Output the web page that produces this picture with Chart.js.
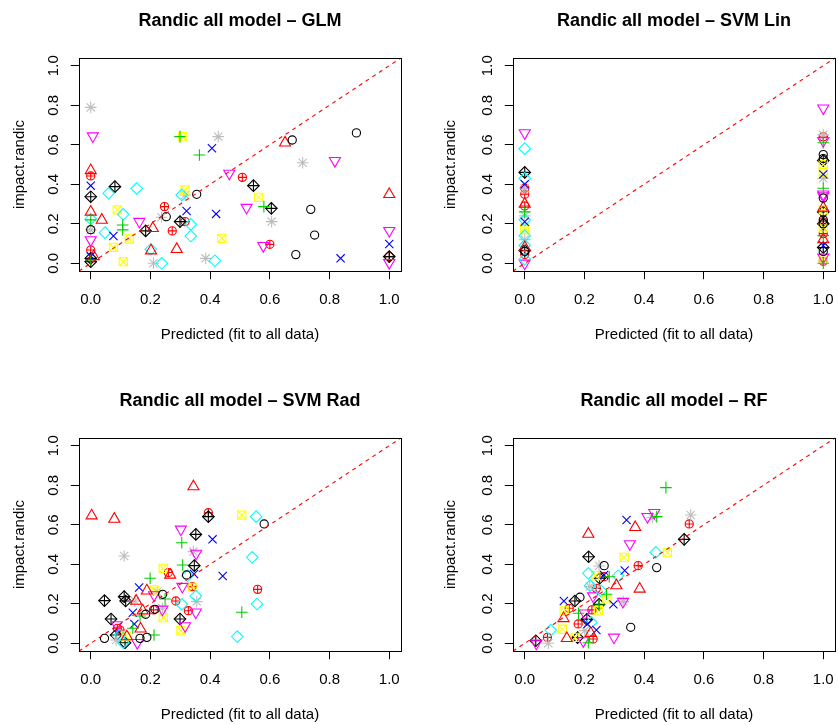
<!DOCTYPE html>
<html>
<head>
<meta charset="utf-8">
<script src="https://cdn.jsdelivr.net/npm/chart.js@4.4.1/dist/chart.umd.min.js"></script>
<style>
  html, body { margin: 0; padding: 0; background: #fff; overflow: hidden; width: 838px; height: 725px; position: relative; }
  .panel { position: absolute; width: 419px; height: 362px; }
</style>
</head>
<body>
<div class="panel" style="left:0;top:0"><canvas id="c0" width="419" height="362"></canvas></div>
<div class="panel" style="left:434px;top:0"><canvas id="c1" width="419" height="362"></canvas></div>
<div class="panel" style="left:0;top:380px"><canvas id="c2" width="419" height="362"></canvas></div>
<div class="panel" style="left:434px;top:380px"><canvas id="c3" width="419" height="362"></canvas></div>
<script>
// ---- data ----
const panelTitles = ["Randic all model \u2013 GLM", "Randic all model \u2013 SVM Lin",
                     "Randic all model \u2013 SVM Rad", "Randic all model \u2013 RF"];
const xLabel = "Predicted (fit to all data)";
const yLabel = "impact.randic";
const tickValues = [0, 0.2, 0.4, 0.6, 0.8, 1.0];
const axisRange = [-0.04, 1.04];
const diagLine = [-0.04, 1.04];

// one list of [predicted, observed] per symbol group (pch 1..10)
const glmPts = [
  [[0.675,0.624],[0.89,0.66],[0.737,0.273],[0.75,0.143],[0.687,0.044],[0.355,0.349],[0.253,0.236],[0,0.17]],
  [[0.651,0.61],[1.0,0.349],[0.288,0.071],[0.208,0.177],[0.037,0.219],[0,0.47],[0,0.26],[0.202,0.064],[0.01,0.035]],
  [[0.299,0.641],[0.364,0.548],[0.107,0.194],[0.107,0.169],[0.58,0.287],[0,0.22],[0,0.017]],
  [[0.406,0.582],[0.321,0.265],[0.42,0.25],[0.076,0.138],[0.837,0.025],[1.0,0.098],[0,0.393],[0,0.034]],
  [[0.154,0.379],[0.06,0.354],[0.109,0.248],[0.048,0.155],[0.305,0.346],[0.335,0.197],[0.335,0.138],[0.201,0.071],[0.238,0.0],[0.416,0.013],[0,0.224]],
  [[0.007,0.644],[0.464,0.455],[0.818,0.519],[0.522,0.282],[0.163,0.211],[0.578,0.089],[1.0,0.165],[1.0,0.003],[0,0.118]],
  [[0.308,0.641],[0.316,0.371],[0.089,0.27],[0.129,0.123],[0.076,0.081],[0.109,0.008],[0.5625,0.334],[0.439,0.126]],
  [[0,0.789],[0.427,0.641],[0.71,0.509],[0.316,0.346],[0.237,0.233],[0.606,0.211],[0.385,0.025],[0.21,0.0],[0,0.169]],
  [[0.081,0.388],[0,0.337],[0.545,0.393],[0.605,0.278],[0.299,0.211],[0.184,0.164],[1.0,0.034],[0,0.008],[0,0.025]],
  [[0.508,0.435],[0.247,0.287],[0.316,0.211],[0.273,0.164],[0.6,0.096],[0,0.442],[0,0.067],[1.0,0.034]]
];
const svmLinPts = [
  [[1,0.55],[1,0.53],[1,0.33],[1,0.22],[1,0.20],[1,0.06],[0,0.06]],
  [[1,0.12],[0,0.08],[1,0.28],[0,0.30]],
  [[1,0.61],[1,0.38],[0,0.26],[1,0.0],[1,0.14]],
  [[1,0.45],[1,0.09],[0,0.40],[0,0.21]],
  [[0,0.58],[0,0.43],[0,0.14],[0,0.09],[0,0.02],[0,0.22]],
  [[0,0.66],[1,0.785],[1,0.35],[1,0.34],[1,0.03],[0,0.0],[1,0.62]],
  [[1,0.50],[1,0.46],[1,0.27],[1,0.18],[1,0.02],[0,0.17],[0,0.18]],
  [[1,0.65],[0,0.38],[0,0.24],[0,0.12],[1,0.43]],
  [[0,0.46],[1,0.52],[1,0.26],[1,0.08],[0,0.065],[1,0.2]],
  [[0,0.35],[0,0.29],[0,0.045],[1,0.64],[1,0.21],[1,0.15],[1,0.01],[0,0.38]]
];
const svmRadPts = [
  [[0.581,0.604],[0.321,0.346],[0.241,0.248],[0.215,0.172],[0.184,0.147],[0.046,0.025],[0.165,0.025],[0.188,0.03]],
  [[0.003,0.646],[0.079,0.629],[0.344,0.793],[0.266,0.346],[0.188,0.266],[0.152,0.214],[0.174,0.165],[0.167,0.073],[0.121,0.034]],
  [[0.305,0.509],[0.308,0.396],[0.199,0.329],[0.249,0.224],[0.165,0.138],[0.141,0.076],[0.212,0.042],[0.506,0.157]],
  [[0.408,0.526],[0.442,0.341],[0.346,0.351],[0.162,0.282],[0.141,0.155],[0.146,0.098]],
  [[0.554,0.641],[0.541,0.435],[0.557,0.199],[0.491,0.034],[0.352,0.239],[0.305,0.197],[0.324,0.342],[0.109,0.003],[0.098,0.042]],
  [[0.302,0.577],[0.353,0.455],[0.307,0.287],[0.352,0.157],[0.316,0.088],[0.212,0.245],[0.240,0.172],[0.087,0.093],[0.156,0.003]],
  [[0.506,0.649],[0.243,0.379],[0.212,0.27],[0.243,0.13],[0.302,0.064],[0.342,0.283],[0.118,0.037]],
  [[0.112,0.442],[0.344,0.464],[0.355,0.211],[0.223,0.261],[0.148,0.214],[0.24,0.177],[0.085,0.017]],
  [[0.394,0.641],[0.352,0.551],[0.347,0.393],[0.046,0.216],[0.112,0.236],[0.117,0.214],[0.068,0.123],[0.299,0.123],[0.085,0.042],[0.115,0.003]],
  [[0.394,0.661],[0.26,0.358],[0.34,0.287],[0.285,0.214],[0.21,0.169],[0.327,0.165],[0.559,0.273],[0.098,0.067],[0.089,0.076]]
];
const rfPts = [
  [[0.442,0.383],[0.266,0.393],[0.185,0.233],[0.355,0.081]],
  [[0.213,0.553],[0.37,0.587],[0.385,0.275],[0.307,0.292],[0.13,0.126],[0.141,0.025],[0.221,0.051]],
  [[0.473,0.788],[0.442,0.641],[0.283,0.337],[0.274,0.248],[0.18,0.152],[0.213,0.003],[0.249,0.194]],
  [[0.341,0.624],[0.335,0.368],[0.297,0.197],[0.131,0.214],[0.24,0.067],[0.266,0.346],[0.21,0.098]],
  [[0.439,0.46],[0.313,0.342],[0.213,0.354],[0.219,0.292],[0.087,0.067],[0.255,0.266],[0.223,0.106]],
  [[0.434,0.661],[0.411,0.641],[0.352,0.503],[0.299,0.03],[0.329,0.211],[0.229,0.239],[0.196,0.012],[0.201,0.152],[0.039,0.0]],
  [[0.478,0.459],[0.333,0.435],[0.238,0.342],[0.275,0.224],[0.247,0.165],[0.132,0.164],[0.126,0.071],[0.169,0.03]],
  [[0.556,0.649],[0.428,0.637],[0.249,0.391],[0.218,0.287],[0.33,0.211],[0.201,0.064],[0.079,0.0]],
  [[0.534,0.526],[0.214,0.438],[0.251,0.329],[0.168,0.214],[0.249,0.197],[0.208,0.121],[0.177,0.029],[0.037,0.013]],
  [[0.551,0.604],[0.38,0.393],[0.266,0.337],[0.24,0.278],[0.225,0.169],[0.149,0.177],[0.179,0.098],[0.076,0.03],[0.229,0.022]]
];
const panelPts = [glmPts, svmLinPts, svmRadPts, rfPts];

// ---- look ----
const FONT = "'Liberation Sans', Arial, Helvetica, sans-serif";
const groupColors = ["#000000", "#FF0000", "#00CD00", "#0000FF", "#00FFFF",
                     "#FF00FF", "#FFFF00", "#BEBEBE", "#000000", "#FF0000"];
const rS = 4.1, rL = 5.8, rT = 6.4;
// R pch 1..10 built from Chart.js point styles
const groupParts = [
  [{ style: "circle", r: rS }],
  [{ style: "triangle", r: rT }],
  [{ style: "cross", r: rL }],
  [{ style: "crossRot", r: rL }],
  [{ style: "rectRot", r: rL }],
  [{ style: "triangle", r: rT, rot: 180 }],
  [{ style: "rect", r: rL }, { style: "crossRot", r: rL }],
  [{ style: "star", r: rL }],
  [{ style: "rectRot", r: rL }, { style: "cross", r: rL }],
  [{ style: "circle", r: rS }, { style: "cross", r: rS }]
];
const yTitlePad = [11, 8, 11, 8];

const boxPlugin = {
  id: "rbox",
  afterDatasetsDraw(chart) {
    const a = chart.chartArea, ctx = chart.ctx;
    ctx.save();
    ctx.strokeStyle = "#000";
    ctx.lineWidth = 1;
    ctx.strokeRect(Math.round(a.left) + 0.5, Math.round(a.top) + 0.5,
                   Math.round(a.right - a.left), Math.round(a.bottom - a.top));
    ctx.restore();
  }
};

function fixedTicks(scale) {
  scale.ticks = tickValues.map(v => ({ value: v }));
}

function makeChart(i) {
  const datasets = [{
    type: "line",
    data: diagLine.map(v => ({ x: v, y: v })),
    borderColor: "#FF0000",
    borderWidth: 1.1,
    borderDash: [4, 4],
    pointRadius: 0,
    fill: false
  }];
  panelPts[i].forEach((pts, g) => {
    const data = pts.map(p => ({ x: p[0], y: p[1] }));
    groupParts[g].forEach(part => {
      datasets.push({
        type: "scatter",
        data: data,
        pointStyle: part.style,
        pointRadius: part.r,
        pointHoverRadius: part.r,
        pointRotation: part.rot || 0,
        borderColor: groupColors[g],
        backgroundColor: "rgba(0,0,0,0)",
        borderWidth: 1.1
      });
    });
  });

  const tickFont = { family: FONT, size: 15 };
  return new Chart(document.getElementById("c" + i), {
    type: "scatter",
    data: { datasets },
    plugins: [boxPlugin],
    options: {
      responsive: false,
      animation: false,
      events: [],
      layout: { padding: { left: 0, top: 0, right: 17.8, bottom: 0 } },
      plugins: {
        legend: { display: false },
        tooltip: { enabled: false },
        title: {
          display: true,
          text: panelTitles[i],
          fullSize: false,
          color: "#000",
          font: { family: FONT, size: 18, weight: "bold" },
          padding: { top: 10.2, bottom: 26 }
        }
      },
      scales: {
        x: {
          type: "linear",
          min: axisRange[0], max: axisRange[1],
          afterBuildTicks: fixedTicks,
          afterFit: s => { s.height = 90.8; },
          border: { display: false },
          grid: { drawOnChartArea: false, drawTicks: true, tickLength: 8, color: "#000", lineWidth: 1 },
          ticks: { color: "#000", font: tickFont, padding: 12, autoSkip: false, maxRotation: 0,
                   callback: v => Number(v).toFixed(1) },
          title: { display: true, text: xLabel, color: "#000", font: tickFont, padding: { top: 0, bottom: 17.8 } }
        },
        y: {
          type: "linear",
          position: "left",
          min: axisRange[0], max: axisRange[1],
          afterBuildTicks: fixedTicks,
          afterFit: s => { s.width = 78.8; },
          border: { display: false },
          grid: { drawOnChartArea: false, drawTicks: true, tickLength: 8, color: "#000", lineWidth: 1 },
          ticks: { color: "#000", font: tickFont, padding: 7, autoSkip: false,
                   minRotation: 90, maxRotation: 90, crossAlign: "center",
                   callback: v => Number(v).toFixed(1) },
          title: { display: true, text: yLabel, color: "#000", font: tickFont, padding: { top: yTitlePad[i], bottom: 0 } }
        }
      }
    }
  });
}

[0, 1, 2, 3].forEach(makeChart);
</script>
</body>
</html>
